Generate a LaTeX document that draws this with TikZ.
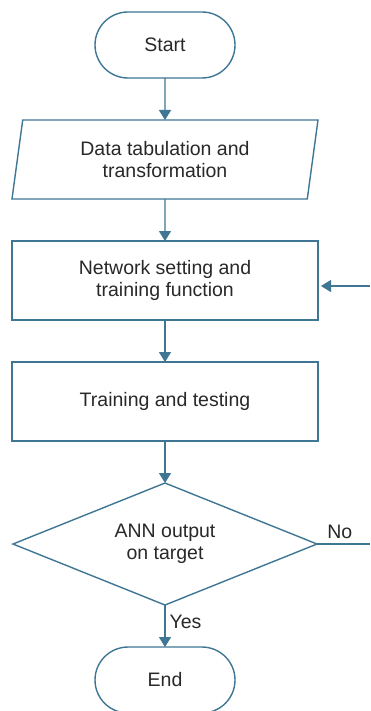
\documentclass[tikz,border=0pt]{standalone}
\usepackage{fontspec}
\setmainfont{Liberation Sans}
\usetikzlibrary{arrows.meta,chains,shapes.geometric}
\definecolor{flow}{RGB}{62,118,148}
\definecolor{ink}{RGB}{40,40,40}

\begin{document}
\begin{tikzpicture}[
x=1pt, y=-1pt,
node distance=42pt,
 start chain = A going below,
every node/.style = {text=ink, align=center,
                font=\fontsize{19.5}{22}\selectfont},
    T/.style = {rectangle, rounded corners=33pt, draw=flow,% terminals
                line width=1.4pt, minimum width=140pt, minimum height=66pt,
                outer sep=0pt, on chain},
    P/.style = {trapezium, trapezium left angle=76, trapezium right angle=104,% data
                trapezium stretches body, draw=flow, line width=1.4pt,
                minimum width=306pt, minimum height=79pt,
                outer sep=0pt, on chain},
    B/.style = {rectangle, draw=flow, line width=1.4pt,% process steps
                minimum width=306pt, minimum height=79pt,
                outer sep=0pt, on chain},
    D/.style = {diamond, aspect=2.5, draw=flow, line width=1.4pt,% decision
                minimum width=304pt, minimum height=122pt,
                inner sep=0pt, outer sep=0pt, on chain},
    F/.style = {draw=flow, line width=1.4pt,
                -{Triangle[width=12pt,length=10pt]}},
    G/.style = {draw=flow, line width=1.4pt},
                        ]
\useasboundingbox (0,0) rectangle (370,711);
\node[T] at (165,45) {Start};
\node[P] {Data tabulation and\\transformation};
\node[B] {Network setting and\\training function};
\node[B] {Training and testing};
\node[D] {ANN output\\on target};
\node[T] {End};
% main flow
\foreach \i [count=\j from 2] in {1,...,5}
    \draw[F] (A-\i) -- (A-\j);
\path (A-5.south) -- node[right=1pt, pos=.4] (yes) {Yes} (A-6.north);
% loop back when the target is missed
\coordinate (back) at (370,286);
\path (A-5.east -| back) coordinate (miss);
\draw[G] (A-5.east) -- node[above=1pt, pos=.43] (no) {No} (miss);
\draw[F, shorten >=3pt] (back) -- (back -| A-3.east);
\end{tikzpicture}
\end{document}
